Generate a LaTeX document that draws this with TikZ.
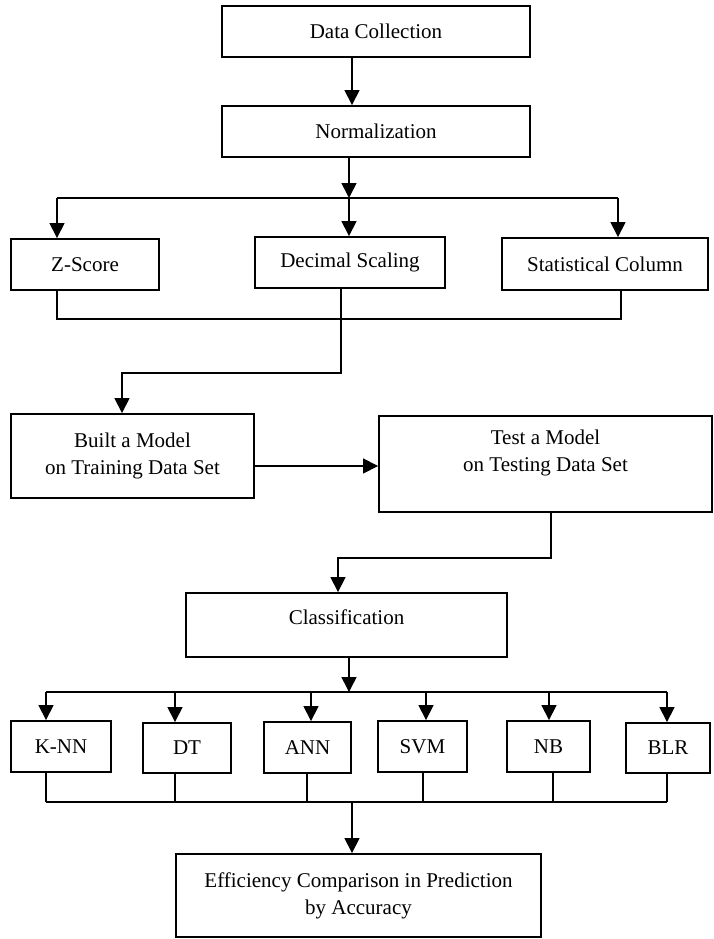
\documentclass[tikz,border=0pt]{standalone}
\usepackage{fontspec}
\setmainfont{Liberation Serif}
\usetikzlibrary{arrows.meta,calc}
\begin{document}
\begin{tikzpicture}[x=1pt,y=-1pt,
  box/.style={draw, line width=1.9pt, inner sep=0pt, align=center, font=\fontsize{21}{27}\selectfont},
  txt/.style={inner sep=0pt, align=center, font=\fontsize{21}{27}\selectfont},
  ln/.style={line width=1.6pt},
  arr/.style={line width=1.6pt, -{Triangle[length=15pt,width=15pt]}}]
\useasboundingbox (0,0) rectangle (714,939);
% boxes
\node[box, minimum width=308pt, minimum height=51pt] (dc) at (376,31.5) {Data Collection};
\node[box, minimum width=308pt, minimum height=51pt] (norm) at (376,131.5) {Normalization};
\node[box, minimum width=148pt, minimum height=51pt] (zs) at (85,264.5) {Z-Score};
\node[box, minimum width=190pt, minimum height=51pt] (ds) at (350,262.5) {Decimal Scaling};
\node[box, minimum width=206pt, minimum height=52pt] (sc) at (605,264) {Statistical Column};
\node[box, minimum width=243pt, minimum height=84pt] (built) at (132.5,456) {Built a Model\\on Training Data Set};
\node[box, minimum width=333pt, minimum height=96pt] (tst) at (545.5,464) {};
\node[txt] (tstT) at (545.5,453) {Test a Model\\on Testing Data Set};
\node[box, minimum width=321pt, minimum height=64pt] (cls) at (346.5,625) {};
\node[txt] (clsT) at (346.5,617) {Classification};
\node[box, minimum width=100pt, minimum height=51pt] (knn) at (61,746.5) {K-NN};
\node[box, minimum width=88pt, minimum height=50pt] (dt) at (187,748) {DT};
\node[box, minimum width=87pt, minimum height=51pt] (ann) at (307.5,747.5) {ANN};
\node[box, minimum width=89pt, minimum height=51pt] (svm) at (422.5,746.5) {SVM};
\node[box, minimum width=83pt, minimum height=51pt] (nb) at (548.5,746.5) {NB};
\node[box, minimum width=84pt, minimum height=50pt] (blr) at (668,748) {BLR};
\node[box, minimum width=365pt, minimum height=83pt] (eff) at (358.5,895.5) {Efficiency Comparison in Prediction\\by Accuracy};
% dc -> norm
\coordinate (p1) at (352,0);
\draw[arr] (dc.south -| p1) -- (norm.north -| p1);
% norm -> branch
\coordinate (b1) at (349,198);
\coordinate (b1l) at (57,198);
\coordinate (b1r) at (618,198);
\draw[arr] (norm.south -| b1) -- (b1);
\draw[ln] (b1l) -- (b1r);
\draw[arr] (b1l) -- (b1l |- zs.north);
\draw[arr] (b1) -- (b1 |- ds.north);
\draw[arr] (b1r) -- (b1r |- sc.north);
% merge
\coordinate (m1l) at (57,319);
\coordinate (m1r) at (621,319);
\draw[ln] (zs.south -| m1l) -- (m1l) -- (m1r) -- (sc.south -| m1r);
\coordinate (d1) at (341,373);
\coordinate (d2) at (122,373);
\draw[arr] (ds.south -| d1) -- (d1) -- (d2) -- (built.north -| d2);
% built -> test
\draw[arr] ([yshift=-10pt]built.east) -- ([yshift=-10pt]built.east -| tst.west);
% test -> cls
\coordinate (t1) at (551,558);
\coordinate (t2) at (338,558);
\draw[arr] (tst.south -| t1) -- (t1) -- (t2) -- (cls.north -| t2);
% cls -> branch
\coordinate (c1) at (349,692);
\coordinate (c1l) at (46,692);
\coordinate (c1r) at (667,692);
\draw[arr] (cls.south -| c1) -- (c1);
\draw[ln] (c1l) -- (c1r);
\foreach \n/\x in {knn/46, dt/175, ann/311, svm/426, nb/549, blr/667} {
  \coordinate (a\n) at (\x,692);
  \draw[arr] (a\n) -- (a\n |- \n.north);
}
\foreach \n/\x in {knn/46, dt/175, ann/307, svm/423, nb/553, blr/667} {
  \coordinate (z\n) at (\x,802);
  \draw[ln] (\n.south -| z\n) -- (z\n);
}
\coordinate (e1) at (352,802);
\draw[ln] (zknn) -- (zblr);
\draw[arr] (e1) -- (e1 |- eff.north);
\end{tikzpicture}
\end{document}
